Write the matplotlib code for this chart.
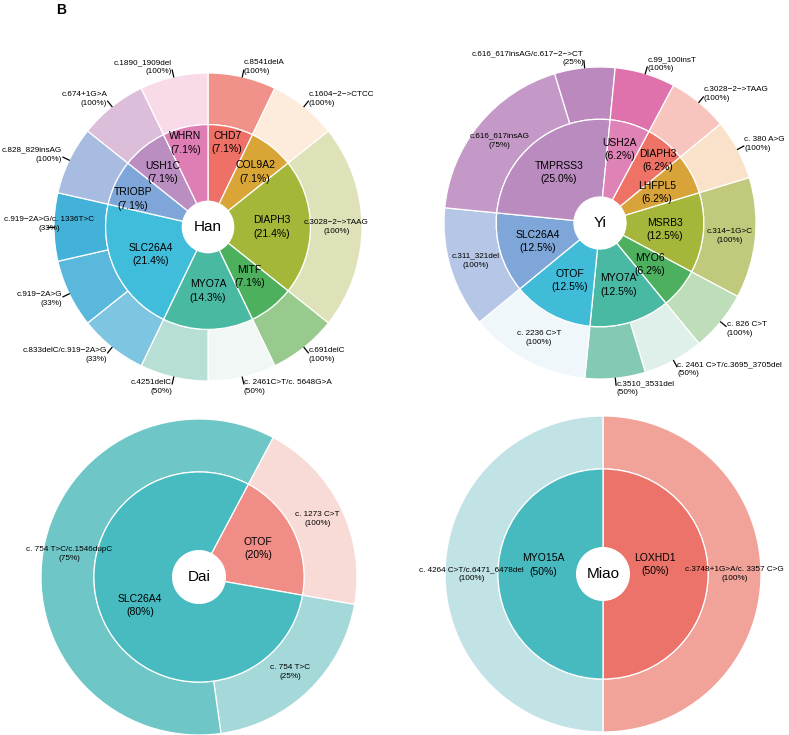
import numpy as np
import matplotlib.pyplot as plt

plt.rcParams['font.family'] = ['Liberation Sans', 'DejaVu Sans']

M = "\u2212"  # minus sign as drawn in the figure

# ---- Han ----
han_genes = ["CHD7", "COL9A2", "DIAPH3", "MITF", "MYO7A", "SLC26A4", "TRIOBP", "USH1C", "WHRN"]
han_var_gene = ["CHD7", "COL9A2", "DIAPH3", "MITF", "MYO7A", "MYO7A",
                "SLC26A4", "SLC26A4", "SLC26A4", "TRIOBP", "USH1C", "WHRN"]
han_variants = ["c.8541delA", "c.1604" + M + "2" + M + ">CTCC", "c.3028" + M + "2" + M + ">TAAG",
                "c.691delC", "c. 2461C>T/c. 5648G>A", "c.4251delC",
                "c.833delC/c.919" + M + "2A>G", "c.919" + M + "2A>G", "c.919" + M + "2A>G/c. 1336T>C",
                "c.828_829insAG", "c.674+1G>A", "c.1890_1909del"]
han_counts = [1, 1, 3, 1, 1, 1, 1, 1, 1, 1, 1, 1]

# ---- Yi ----
yi_genes = ["DIAPH3", "LHFPL5", "MSRB3", "MYO6", "MYO7A", "OTOF", "SLC26A4", "TMPRSS3", "USH2A"]
yi_var_gene = ["DIAPH3", "LHFPL5", "MSRB3", "MYO6", "MYO7A", "MYO7A", "OTOF",
               "SLC26A4", "TMPRSS3", "TMPRSS3", "USH2A"]
yi_variants = ["c.3028" + M + "2" + M + ">TAAG", "c. 380 A>G", "c.314" + M + "1G>C", "c. 826 C>T",
               "c. 2461 C>T/c.3695_3705del", "c.3510_3531del", "c. 2236 C>T", "c.311_321del",
               "c.616_617insAG", "c.616_617insAG/c.617" + M + "2" + M + ">CT", "c.99_100insT"]
yi_counts = [1, 1, 2, 1, 1, 1, 2, 2, 3, 1, 1]

# ---- Dai ----
dai_genes = ["OTOF", "SLC26A4"]
dai_var_gene = ["OTOF", "SLC26A4", "SLC26A4"]
dai_variants = ["c. 1273 C>T", "c. 754 T>C", "c. 754 T>C/c.1546dupC"]
dai_counts = [1, 1, 3]

# ---- Miao ----
miao_genes = ["LOXHD1", "MYO15A"]
miao_var_gene = ["LOXHD1", "MYO15A"]
miao_variants = ["c.3748+1G>A/c. 3357 C>G", "c. 4264 C>T/c.6471_6478del"]
miao_counts = [1, 1]

# colours
han_gene_cols = ["#EE7067", "#D9A537", "#A4B738", "#4CB05D", "#49B9A2",
                 "#40BDDB", "#7FA6D9", "#BA8EC1", "#DE7EB5"]
han_var_cols = ["#F09289", "#FDEBDB", "#DFE2B9", "#98CA8D", "#F0F7F5", "#B8DFD6",
                "#7EC5E2", "#59B8DC", "#44B2D8", "#A8BCE1", "#DCBDDA", "#F8DAE8"]
yi_gene_cols = ["#EE7366", "#D8A43A", "#A5B63B", "#4DB05F", "#49B9A3",
                "#41BCD8", "#7FA6D9", "#BA8BBF", "#DF82B5"]
yi_var_cols = ["#F8C5BE", "#F9E2C9", "#C0C97C", "#BEDDB9", "#DFF0EA", "#84C9B4",
               "#EFF7FB", "#B6C6E6", "#C499C7", "#BB89BD", "#DF72AC"]
dai_gene_cols = ["#F08D86", "#47BBBF"]
dai_var_cols = ["#F8DBD6", "#A4D8D9", "#6FC6C6"]
miao_gene_cols = ["#EC736A", "#47BAC0"]
miao_var_cols = ["#F1A299", "#C2E3E5"]

# gene labels nudged away from the ring middle: (radius, angle clockwise from top)
han_lab_pos = {"CHD7": (0.565, 12.7), "WHRN": (0.565, 345), "COL9A2": (0.47, 40.5),
               "USH1C": (0.46, 320.7), "TRIOBP": (0.52, 290.5), "MITF": (0.42, 140)}
yi_lab_pos = {"USH2A": (0.49, 15), "DIAPH3": (0.545, 43)}
dai_lab_pos = {}
miao_lab_pos = {"MYO15A": (0.385, 278.5), "LOXHD1": (0.335, 80)}

W, H = 789, 735
fig = plt.figure(figsize=(W / 100, H / 100), dpi=100)

R_IN = 0.665
R_HOLE = 0.167
LIM = 1.3


def donut(cx, cy, R, name, genes, var_gene, variants, counts, gcols, vcols, start, gfmt, lab_pos):
    ax = fig.add_axes([(cx - LIM * R) / W, (H - cy - LIM * R) / H, 2 * LIM * R / W, 2 * LIM * R / H])
    gene_counts = [sum(c for g, c in zip(var_gene, counts) if g == gn) for gn in genes]
    total = sum(counts)
    wp = dict(edgecolor='white', linewidth=0.9)
    ax.pie(counts, radius=1, colors=vcols, startangle=90 - start, counterclock=False,
           wedgeprops=dict(width=1 - R_IN, **wp))
    ax.pie(gene_counts, radius=R_IN, colors=gcols, startangle=90 - start, counterclock=False,
           wedgeprops=dict(width=R_IN - R_HOLE, **wp))
    ax.set_xlim(-LIM, LIM)
    ax.set_ylim(-LIM, LIM)
    ax.axis('off')

    # gene labels
    cum = np.cumsum([0] + gene_counts)
    for i, g in enumerate(genes):
        ang = start + 360 * (cum[i] + cum[i + 1]) / 2 / total
        r = (R_IN + R_HOLE) / 2
        if g in lab_pos:
            r, ang = lab_pos[g]
        th = np.radians(ang)
        ax.text(r * np.sin(th), r * np.cos(th), g + "\n(" + gfmt.format(100 * gene_counts[i] / total) + ")",
                ha='center', va='center', fontsize=7.5, linespacing=1.4)

    # variant labels
    cum = np.cumsum([0] + counts)
    for i, v in enumerate(variants):
        th = np.radians(start + 360 * (cum[i] + cum[i + 1]) / 2 / total)
        gtot = gene_counts[genes.index(var_gene[i])]
        lab = v + "\n(" + "{:.0f}%".format(100 * counts[i] / gtot) + ")"
        s, c = np.sin(th), np.cos(th)
        if counts[i] / total >= 0.1:
            r = (1 + R_IN) / 2
            ax.text(r * s, r * c, lab, ha='center', va='center', fontsize=5.9, linespacing=1.4)
        else:
            ax.plot([1.0 * s, 1.045 * s], [1.0 * c, 1.045 * c], color='black', lw=0.9)
            if abs(s) > 0.999:
                ha, x = 'center', 1.03 * s
            else:
                ha, x = ('left' if s > 0 else 'right'), 1.05 * s
            y = 1.045 * c
            if c > -1e-6:
                ax.text(x, y - 0.035, lab, ha=ha, va='bottom', fontsize=5.9, linespacing=1.4)
            else:
                ax.text(x, y + 0.035, lab, ha=ha, va='top', fontsize=5.9, linespacing=1.4)

    ax.text(0, 0, name, ha='center', va='center', fontsize=11)


donut(208, 227, 154, "Han", han_genes, han_var_gene, han_variants, han_counts,
      han_gene_cols, han_var_cols, 0, "{:.1f}%", han_lab_pos)
donut(600, 223, 156, "Yi", yi_genes, yi_var_gene, yi_variants, yi_counts,
      yi_gene_cols, yi_var_cols, 28.1, "{:.1f}%", yi_lab_pos)
donut(199, 577, 158, "Dai", dai_genes, dai_var_gene, dai_variants, dai_counts,
      dai_gene_cols, dai_var_cols, 28, "{:.0f}%", dai_lab_pos)
donut(603, 574, 158, "Miao", miao_genes, miao_var_gene, miao_variants, miao_counts,
      miao_gene_cols, miao_var_cols, 0, "{:.0f}%", miao_lab_pos)

fig.text(56 / W, 1 - 3 / H, "B", fontsize=10, fontweight='bold', ha='left', va='top')

fig.savefig("out.png", dpi=100)
